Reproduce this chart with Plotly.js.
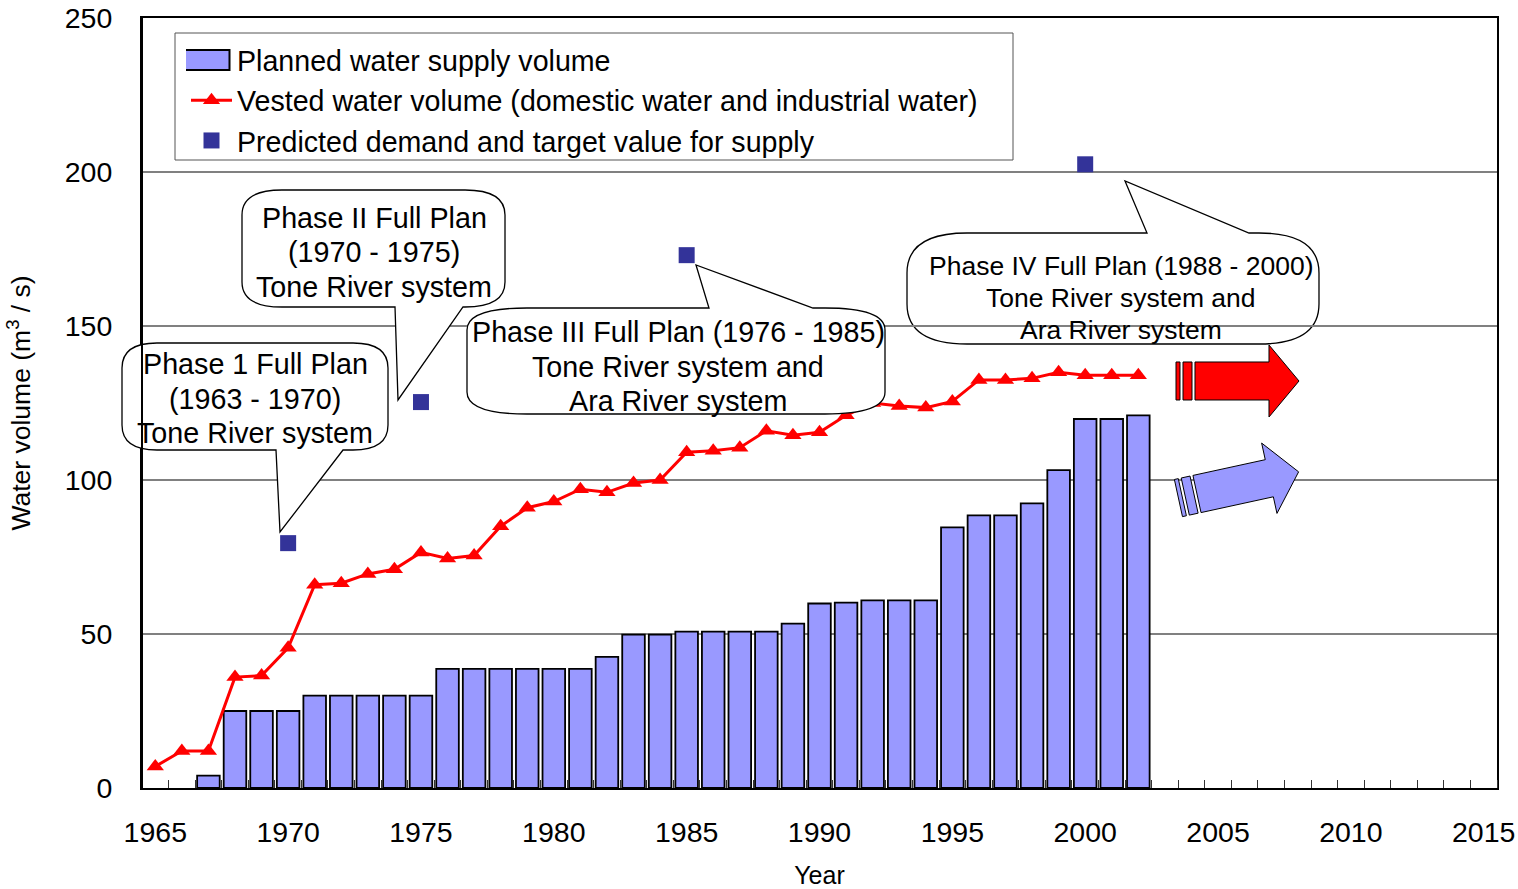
<!DOCTYPE html>
<html>
<head>
<meta charset="utf-8">
<script src="https://cdn.plot.ly/plotly-3.0.1.min.js"></script>
<style>html,body{margin:0;padding:0;background:#fff;}#chart{width:1518px;height:889px;}</style>
</head>
<body>
<div id="chart"></div>
<script>
// ---- data ----
const plannedYears = [1967,1968,1969,1970,1971,1972,1973,1974,1975,1976,1977,1978,1979,1980,1981,1982,1983,1984,1985,1986,1987,1988,1989,1990,1991,1992,1993,1994,1995,1996,1997,1998,1999,2000,2001,2002];
const plannedVolume = [4,25,25,25,30,30,30,30,30,38.7,38.7,38.7,38.7,38.7,38.7,42.6,49.8,49.8,50.8,50.8,50.8,50.8,53.4,59.9,60.2,60.9,60.9,60.9,84.6,88.5,88.5,92.4,103.2,119.8,119.8,121];
const vestedYears = [1965,1966,1967,1968,1969,1970,1971,1972,1973,1974,1975,1976,1977,1978,1979,1980,1981,1982,1983,1984,1985,1986,1987,1988,1989,1990,1991,1992,1993,1994,1995,1996,1997,1998,1999,2000,2001,2002];
const vestedVolume = [7,12,12,36,36.5,45.5,66,66.5,69.5,71,76.5,74.5,75.5,85,91,93,97,96,99,100,109,109.5,110.5,116,114.5,115.5,121,125,124,123.5,125.5,132.5,132.5,133,135,134,134,134];
const targetYears = [1970,1975,1985,2000];
const targetVolume = [79.5,125.3,173,202.5];
const xTickVals = [1965,1970,1975,1980,1985,1990,1995,2000,2005,2010,2015];
const seriesNames = ["Planned water supply volume","Vested water volume (domestic water and industrial water)","Predicted demand and target value for supply"];
const phase1Lines = ["Phase 1 Full Plan","(1963 - 1970)","Tone River system"];
const phase2Lines = ["Phase II Full Plan","(1970 - 1975)","Tone River system"];
const phase3Lines = ["Phase III Full Plan (1976 - 1985)","Tone River system and","Ara River system"];
const phase4Lines = ["Phase IV Full Plan (1988 - 2000)","Tone River system and","Ara River system"];

// ---- layout helpers (pixel -> paper) ----
const W=1518,H=889,ML=142,MR=21,MT=18,MB=101;
const PW=W-ML-MR, PH=H-MT-MB;
const px = x => (x-ML)/PW;
const py = y => (MT+PH-y)/PH;
const P = (x,y) => px(x).toFixed(5)+','+py(y).toFixed(5);

function calloutPath(l,t,r,b,rx,ry,ptr){
  let s='M'+P(l+rx,t);
  if(ptr.side==='top'){ s+=' L'+P(ptr.a,t)+' L'+P(ptr.tx,ptr.ty)+' L'+P(ptr.c,t); }
  s+=' L'+P(r-rx,t)+' Q'+P(r,t)+' '+P(r,t+ry)+' L'+P(r,b-ry)+' Q'+P(r,b)+' '+P(r-rx,b);
  if(ptr.side==='bottom'){ s+=' L'+P(ptr.c,b)+' L'+P(ptr.tx,ptr.ty)+' L'+P(ptr.a,b); }
  s+=' L'+P(l+rx,b)+' Q'+P(l,b)+' '+P(l,b-ry)+' L'+P(l,t+ry)+' Q'+P(l,t)+' '+P(l+rx,t)+' Z';
  return s;
}
function poly(pts){ return 'M'+pts.map(p=>P(p[0],p[1])).join(' L')+' Z'; }
function xform(pts,ox,oy,ang,nx,ny){
  const c=Math.cos(ang),s=Math.sin(ang);
  return pts.map(p=>{const dx=p[0]-ox,dy=p[1]-oy;return [nx+dx*c-dy*s, ny+dx*s+dy*c];});
}

// decorative arrows (pixel geometry; red one horizontal, blue one rotated)
const arrowBody=[[1195,362],[1269,362],[1269,345],[1299,381],[1269,417],[1269,400],[1195,400]];
const stripe1=[[1176,362],[1180,362],[1180,400],[1176,400]];
const stripe2=[[1183,362],[1192,362],[1192,400],[1183,400]];
const ang=-12.3*Math.PI/180;
const bBody=xform(arrowBody,1195,381,ang,1197,494);
const bS1=xform(stripe1,1195,381,ang,1197,494);
const bS2=xform(stripe2,1195,381,ang,1197,494);

const FAM='Liberation Sans, Arial, sans-serif';
const shapes=[
  {type:'path',xref:'paper',yref:'paper',layer:'below',path:calloutPath(907,233,1319,344,60,40,{side:'top',a:1147,c:1249,tx:1125,ty:181}),fillcolor:'#fff',line:{color:'#000',width:1.3}},
  {type:'path',xref:'paper',yref:'paper',layer:'above',path:calloutPath(122,343,388,450,35,25,{side:'bottom',a:276,c:343,tx:280,ty:532}),fillcolor:'#fff',line:{color:'#000',width:1.3}},
  {type:'path',xref:'paper',yref:'paper',layer:'above',path:calloutPath(242,190,505,307,40,25,{side:'bottom',a:395,c:463,tx:398,ty:400}),fillcolor:'#fff',line:{color:'#000',width:1.3}},
  {type:'path',xref:'paper',yref:'paper',layer:'above',path:calloutPath(467,308,885,414,60,22,{side:'top',a:709,c:813,tx:696,ty:265}),fillcolor:'#fff',line:{color:'#000',width:1.3}},
  {type:'line',xref:'paper',yref:'paper',layer:'above',x0:0,x1:0,y0:0,y1:1,line:{color:'#000',width:2}},
  {type:'rect',xref:'paper',yref:'paper',layer:'above',x0:px(175),x1:px(1013),y0:py(160),y1:py(33),line:{color:'#555',width:1},fillcolor:'rgba(0,0,0,0)'},
  {type:'path',xref:'paper',yref:'paper',layer:'above',path:poly(stripe1),fillcolor:'#ff0000',line:{color:'#000',width:1}},
  {type:'path',xref:'paper',yref:'paper',layer:'above',path:poly(stripe2),fillcolor:'#ff0000',line:{color:'#000',width:1}},
  {type:'path',xref:'paper',yref:'paper',layer:'above',path:poly(arrowBody),fillcolor:'#ff0000',line:{color:'#000',width:1}},
  {type:'path',xref:'paper',yref:'paper',layer:'above',path:poly(bS1),fillcolor:'#9999ff',line:{color:'#000',width:1}},
  {type:'path',xref:'paper',yref:'paper',layer:'above',path:poly(bS2),fillcolor:'#9999ff',line:{color:'#000',width:1}},
  {type:'path',xref:'paper',yref:'paper',layer:'above',path:poly(bBody),fillcolor:'#9999ff',line:{color:'#000',width:1}}
];
const annotations=[];
function addLines(lines,cx,ys,size){
  lines.forEach((t,i)=>annotations.push({xref:'paper',yref:'paper',x:px(cx),y:py(ys[i]),text:t,showarrow:false,
    font:{family:FAM,size:size,color:'#000'},xanchor:'center',yanchor:'middle'}));
}
addLines(phase1Lines,255,[364,399,433],28.7);
addLines(phase2Lines,374,[218,252,287],28.7);
addLines(phase3Lines,678,[332,367,401],28.7);
addLines(phase4Lines,1121,[266,298,330],26.5);

const traces=[
  {type:'bar',name:seriesNames[0],x:plannedYears,y:plannedVolume,width:0.85,marker:{color:'#9999ff',line:{color:'#000',width:1.8}}},
  {type:'scatter',mode:'lines+markers',name:seriesNames[1],x:vestedYears,y:vestedVolume,line:{color:'#ff0000',width:3},marker:{symbol:'triangle-up',size:15,color:'#ff0000'}},
  {type:'scatter',mode:'markers',name:seriesNames[2],x:targetYears,y:targetVolume,marker:{symbol:'square',size:16,color:'#333399'}}
];

const layout={
  width:W,height:H,margin:{l:ML,r:MR,t:MT,b:MB},
  paper_bgcolor:'#fff',plot_bgcolor:'#fff',font:{family:FAM,size:28.5,color:'#000'},
  showlegend:true,
  legend:{x:px(186),y:py(35),xanchor:'left',yanchor:'top',bgcolor:'rgba(0,0,0,0)',borderwidth:0,font:{family:FAM,size:28.6,color:'#000'},itemwidth:41,traceorder:'normal'},
  xaxis:{range:[1964.5,2015.5],tickmode:'array',tickvals:xTickVals,ticktext:xTickVals.map(String),ticks:'',showgrid:false,zeroline:false,
    showline:true,mirror:true,linecolor:'#000',linewidth:2,ticklabelstandoff:18,tickfont:{family:FAM,size:28.5,color:'#000'},
    minor:{tick0:1964.5,dtick:1,ticks:'inside',ticklen:8,tickcolor:'#333',tickwidth:1,showgrid:false},
    title:{text:'Year',font:{family:FAM,size:25,color:'#000'},standoff:22}},
  yaxis:{range:[0,250],dtick:50,ticks:'',showgrid:true,gridcolor:'#808080',gridwidth:1.2,zeroline:false,
    showline:true,mirror:true,linecolor:'#000',linewidth:2,ticklabelstandoff:22,tickfont:{family:FAM,size:28.5,color:'#000'},
    title:{text:'Water volume (m<sup>3</sup> / s)',font:{family:FAM,size:26.5,color:'#000'},standoff:26}},
  shapes:shapes,annotations:annotations
};
function widenBarSwatch(){
  // widen the bar legend swatch to the reference's wide rectangle
  const items=document.querySelectorAll('#chart .legend g.traces');
  if(!items.length) return;
  const paths=items[0].querySelectorAll('.legendpoints path');
  paths.forEach(p=>{ p.setAttribute('d','M18,10H-28V-10H18Z'); p.style.strokeWidth='2px'; });
}
Plotly.newPlot('chart',traces,layout,{displayModeBar:false,staticPlot:true}).then(gd=>{
  widenBarSwatch();
  gd.on && gd.on('plotly_afterplot',widenBarSwatch);
  requestAnimationFrame(widenBarSwatch);
  setTimeout(widenBarSwatch,50);
  setTimeout(widenBarSwatch,300);
});
</script>
</body>
</html>
